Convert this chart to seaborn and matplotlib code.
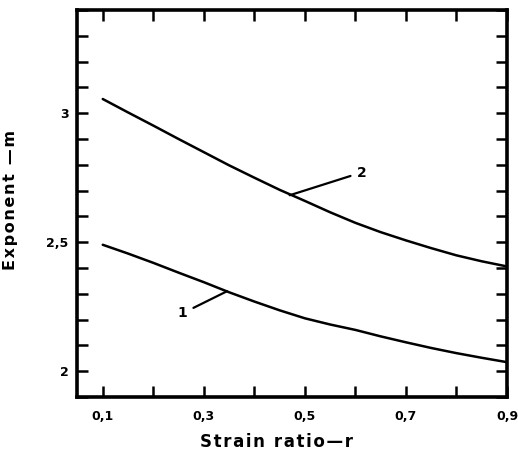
import matplotlib
matplotlib.use("Agg")
import matplotlib.pyplot as plt
import seaborn as sns
import pandas as pd
import numpy as np

# Data
strain_ratio = [0.1, 0.15, 0.2, 0.25, 0.3, 0.35, 0.4, 0.45, 0.5,
                0.55, 0.6, 0.65, 0.7, 0.75, 0.8, 0.85, 0.9]
curve1 = [2.49, 2.456, 2.42, 2.382, 2.345, 2.306, 2.27, 2.236, 2.205,
          2.181, 2.16, 2.135, 2.112, 2.09, 2.07, 2.052, 2.035]
curve2 = [3.055, 3.003, 2.952, 2.90, 2.849, 2.798, 2.75, 2.703, 2.66,
          2.616, 2.575, 2.539, 2.507, 2.477, 2.449, 2.426, 2.406]
x_tick_vals = [0.1, 0.3, 0.5, 0.7, 0.9]
x_tick_labels = ["0,1", "0,3", "0,5", "0,7", "0,9"]
y_tick_vals = [2.0, 2.5, 3.0]
y_tick_labels = ["2", "2,5", "3"]
label1 = "1"
label2 = "2"
x_title = "Strain ratio—r"
y_title = "Exponent —m"

sns.set_theme(style="white")
plt.rcParams['font.family'] = ['DejaVu Sans']
plt.rcParams['text.color'] = 'black'
plt.rcParams['axes.labelcolor'] = 'black'
plt.rcParams['xtick.color'] = 'black'
plt.rcParams['ytick.color'] = 'black'

df = pd.DataFrame({
    "r": strain_ratio * 2,
    "m": curve1 + curve2,
    "curve": [label1] * len(curve1) + [label2] * len(curve2),
})

fig = plt.figure(figsize=(5.18, 4.55), dpi=100)
ax = fig.add_axes([77 / 518, 1 - 397 / 455, 430 / 518, 387 / 455])

sns.lineplot(data=df, x="r", y="m", hue="curve", palette=["black", "black"],
             linewidth=1.8, legend=False, ax=ax)

ax.set_xlim(0.049, 0.9)
ax.set_ylim(1.9, 3.4)

ax.set_xticks(np.arange(0.1, 0.91, 0.1), minor=True)
ax.set_xticks(x_tick_vals)
ax.set_xticklabels(x_tick_labels, fontsize=9, fontweight="bold")
ax.set_yticks(np.arange(1.9, 3.41, 0.1), minor=True)
ax.set_yticks(y_tick_vals)
ax.set_yticklabels(y_tick_labels, fontsize=9, fontweight="bold")

for which in ("major", "minor"):
    ax.tick_params(axis="both", which=which, direction="in", length=8, width=1.8,
                   color="black", top=True, right=True, bottom=True, left=True,
                   pad=6)
ax.tick_params(axis="x", which="major", pad=9)

for s in ax.spines.values():
    s.set_linewidth(2.6)
    s.set_color("black")

hair = "\u200a"
ax.set_xlabel(hair.join(x_title), fontsize=12, fontweight="bold")
ax.set_ylabel(hair.join(y_title), fontsize=11.5, fontweight="bold")
ax.xaxis.set_label_coords((277 - 77) / 430, -(433 - 397) / 387)
ax.yaxis.set_label_coords(-(77 - 18) / 430, (397 - 200) / 387)

# Leader-line labels
ax.annotate(label2, xy=(0.47, 2.682), xytext=(0.602, 2.77),
            fontsize=10, fontweight="bold", va="center", ha="left",
            arrowprops=dict(arrowstyle="-", color="black", lw=1.6,
                            shrinkA=2, shrinkB=0))
ax.annotate(label1, xy=(0.346, 2.31), xytext=(0.268, 2.225),
            fontsize=10, fontweight="bold", va="center", ha="right",
            arrowprops=dict(arrowstyle="-", color="black", lw=1.6,
                            shrinkA=2, shrinkB=0))

fig.savefig("out.png", dpi=100)
